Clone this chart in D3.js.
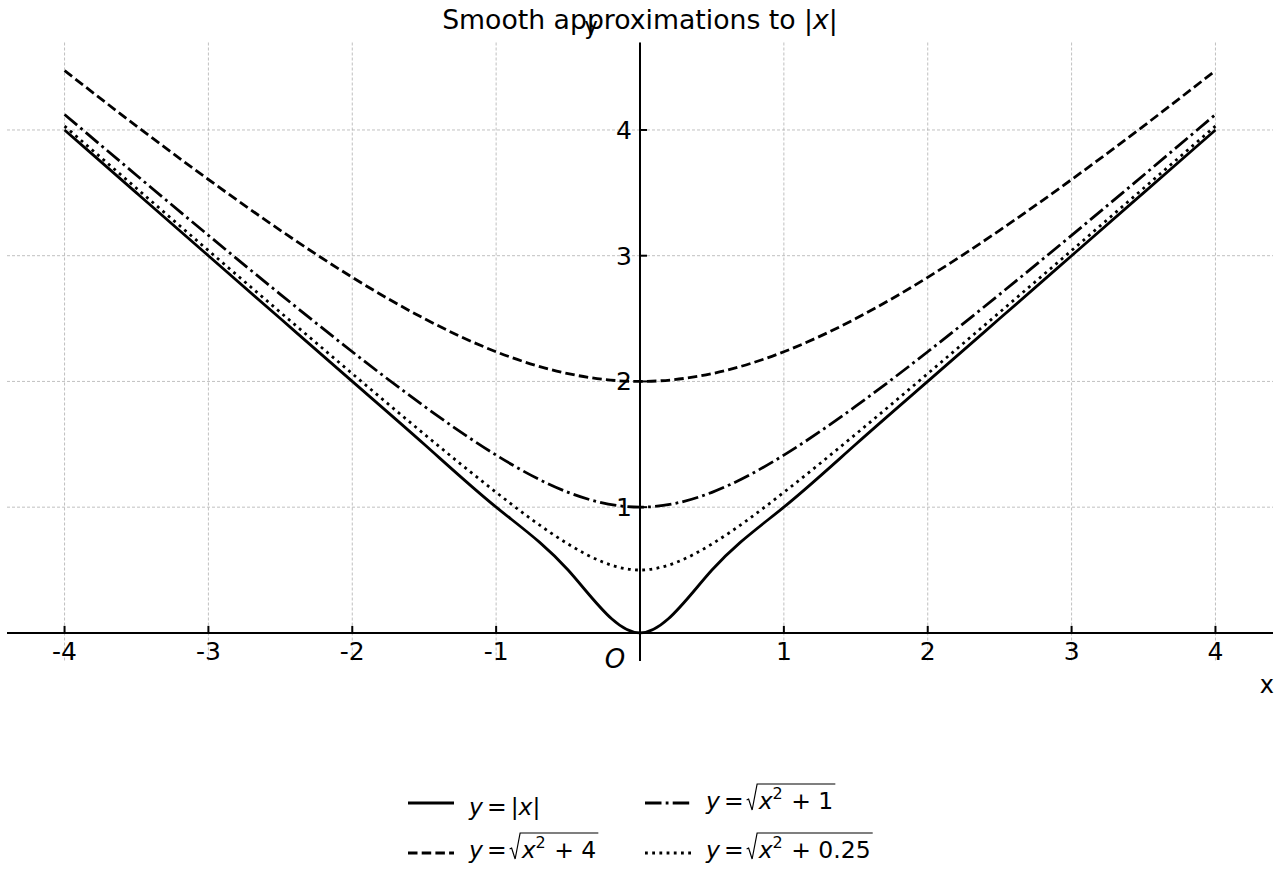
<!DOCTYPE html>
<html>
<head>
<meta charset="utf-8">
<script src="https://cdn.jsdelivr.net/npm/d3@7"></script>
<style>
  html, body { margin: 0; padding: 0; background: #ffffff; }
  svg { display: block; font-family: "DejaVu Sans", sans-serif; }
</style>
</head>
<body>
<svg id="chart" width="1280" height="880"></svg>
<script>
const xValues   = [-4, -3.5, -3, -2.5, -2, -1.5, -1, -0.5, 0, 0.5, 1, 1.5, 2, 2.5, 3, 3.5, 4];
const absValues = [4, 3.5, 3, 2.5, 2, 1.5, 1, 0.5, 0, 0.5, 1, 1.5, 2, 2.5, 3, 3.5, 4];
const sqrt4Values = [4.472, 4.031, 3.606, 3.202, 2.828, 2.5, 2.236, 2.062, 2, 2.062, 2.236, 2.5, 2.828, 3.202, 3.606, 4.031, 4.472];
const sqrt1Values = [4.123, 3.640, 3.162, 2.693, 2.236, 1.803, 1.414, 1.118, 1, 1.118, 1.414, 1.803, 2.236, 2.693, 3.162, 3.640, 4.123];
const sqrtQValues = [4.031, 3.536, 3.041, 2.550, 2.062, 1.581, 1.118, 0.707, 0.5, 0.707, 1.118, 1.581, 2.062, 2.550, 3.041, 3.536, 4.031];
const xTicks = [-4, -3, -2, -1, 1, 2, 3, 4];
const yTicks = [1, 2, 3, 4];
const xGrid = [-4, -3, -2, -1, 0, 1, 2, 3, 4];
const yGrid = [0, 1, 2, 3, 4];
const xDomain = [-4.4, 4.4];
const yDomain = [-0.2236, 4.6957];
const titleText = "Smooth approximations to ";

const seriesList = [
  { values: absValues,   dash: null,          w: 2.8 },
  { values: sqrt4Values, dash: "9.5,4.2",     w: 2.8 },
  { values: sqrt1Values, dash: "16.5,4.2,2.8,4.2", w: 2.8 },
  { values: sqrtQValues, dash: "2.8,4.4",     w: 2.8 }
];

// ---- layout ----
const svg = d3.select("#chart");
const L = 7, R = 1273, T = 42.5, B = 661;
const x = d3.scaleLinear().domain(xDomain).range([L, R]);
const y = d3.scaleLinear().domain(yDomain).range([B, T]);

// grid
const grid = svg.append("g").attr("stroke", "#b0b0b0").attr("stroke-width", 0.8).attr("stroke-dasharray", "3,2");
grid.selectAll("line.v").data(xGrid).join("line").attr("class", "v")
  .attr("x1", d => x(d)).attr("x2", d => x(d)).attr("y1", T).attr("y2", B);
grid.selectAll("line.h").data(yGrid).join("line").attr("class", "h")
  .attr("x1", L).attr("x2", R).attr("y1", d => y(d)).attr("y2", d => y(d));

// curves
const line = d3.line().x((d, i) => x(xValues[i])).y(d => y(d)).curve(d3.curveNatural);
svg.append("g").selectAll("path").data(seriesList).join("path")
  .attr("d", d => line(d.values))
  .attr("fill", "none").attr("stroke", "#000").attr("stroke-width", d => d.w)
  .attr("stroke-linecap", "butt").attr("stroke-linejoin", "round")
  .attr("stroke-dasharray", d => d.dash);

// spines through zero
const x0 = x(0), y0 = y(0);
svg.append("line").attr("x1", L).attr("x2", R).attr("y1", y0).attr("y2", y0).attr("stroke", "#000").attr("stroke-width", 2);
svg.append("line").attr("x1", x0).attr("x2", x0).attr("y1", T).attr("y2", B).attr("stroke", "#000").attr("stroke-width", 2);

// x ticks (inward, upward)
const xt = svg.append("g");
xt.selectAll("line").data(xTicks).join("line")
  .attr("x1", d => x(d)).attr("x2", d => x(d)).attr("y1", y0).attr("y2", y0 - 7)
  .attr("stroke", "#000").attr("stroke-width", 2);
xt.selectAll("text").data(xTicks).join("text")
  .attr("x", d => x(d)).attr("y", y0 + 27).attr("text-anchor", "middle")
  .attr("font-size", 25).attr("fill", "#000").text(d => String(d));

// y ticks (inward, to the right)
const yt = svg.append("g");
yt.selectAll("line").data(yTicks).join("line")
  .attr("x1", x0).attr("x2", x0 + 7).attr("y1", d => y(d)).attr("y2", d => y(d))
  .attr("stroke", "#000").attr("stroke-width", 2);
yt.selectAll("text").data(yTicks).join("text")
  .attr("x", x0 - 8).attr("y", d => y(d) + 9).attr("text-anchor", "end")
  .attr("font-size", 25).attr("fill", "#000").text(d => String(d));

// axis labels
svg.append("text").attr("x", 1274).attr("y", 693).attr("text-anchor", "end").attr("font-size", 24).text("x");
svg.append("text").attr("x", 591).attr("y", 34).attr("text-anchor", "middle").attr("font-size", 23).text("y");
svg.append("text").attr("x", 615).attr("y", 668).attr("text-anchor", "middle").attr("font-size", 26).attr("font-style", "italic").text("O");

// title
const title = svg.append("text").attr("x", 640).attr("y", 29).attr("text-anchor", "middle").attr("font-size", 26.7);
title.append("tspan").text(titleText + "|");
title.append("tspan").attr("font-style", "italic").text("x");
title.append("tspan").text("|");

// ---- legend (math text) ----
const FS = 23.5;
function writeMath(g, startX, base, parts) {
  let cx = startX;
  parts.forEach(p => {
    if (p.gap) { cx += p.gap; return; }
    if (p.sqrt) {
      const inner = g.append("g");
      const innerStart = cx + 12;
      const endX = writeMath(inner, innerStart, base, p.sqrt);
      g.append("path")
        .attr("d", `M${cx},${base - 9} L${cx + 2},${base - 10} L${cx + 5.5},${base + 1} L${cx + 10.5},${base - 25} L${endX + 2},${base - 25}`)
        .attr("fill", "none").attr("stroke", "#000").attr("stroke-width", 1.2).attr("stroke-linejoin", "miter");
      cx = endX + 2;
      return;
    }
    const t = g.append("text").attr("x", cx)
      .attr("y", p.sup ? base - 10 : base)
      .attr("font-size", p.sup ? 16 : FS)
      .attr("font-style", p.i ? "italic" : "normal")
      .attr("xml:space", "preserve")
      .style("white-space", "pre")
      .text(p.t);
    cx += t.node().getComputedTextLength() + (p.sup ? 1 : 0);
  });
  return cx;
}

const legendEntries = [
  { col: 0, row: 0, dash: null, base: 815,
    parts: [{t: "y", i: 1}, {gap: 4}, {t: "="}, {gap: 4}, {t: "|"}, {t: "x", i: 1}, {t: "|"}] },
  { col: 0, row: 1, dash: "9.5,4.2", base: 858,
    parts: [{t: "y", i: 1}, {gap: 4}, {t: "="}, {gap: 3}, {sqrt: [{t: "x", i: 1}, {t: "2", sup: 1}, {t: " + 4"}]}] },
  { col: 1, row: 0, dash: "16.5,4.2,2.8,4.2", base: 809,
    parts: [{t: "y", i: 1}, {gap: 4}, {t: "="}, {gap: 3}, {sqrt: [{t: "x", i: 1}, {t: "2", sup: 1}, {t: " + 1"}]}] },
  { col: 1, row: 1, dash: "2.8,4.4", base: 858,
    parts: [{t: "y", i: 1}, {gap: 4}, {t: "="}, {gap: 3}, {sqrt: [{t: "x", i: 1}, {t: "2", sup: 1}, {t: " + 0.25"}]}] }
];
const colLineX = [408, 645];
const colTextX = [469, 706];
const rowLineY = [803, 853];
const leg = svg.append("g");
legendEntries.forEach(e => {
  leg.append("line").attr("x1", colLineX[e.col]).attr("x2", colLineX[e.col] + 46)
    .attr("y1", rowLineY[e.row]).attr("y2", rowLineY[e.row])
    .attr("stroke", "#000").attr("stroke-width", 2.8).attr("stroke-dasharray", e.dash);
  writeMath(leg.append("g"), colTextX[e.col], e.base, e.parts);
});
</script>
</body>
</html>
